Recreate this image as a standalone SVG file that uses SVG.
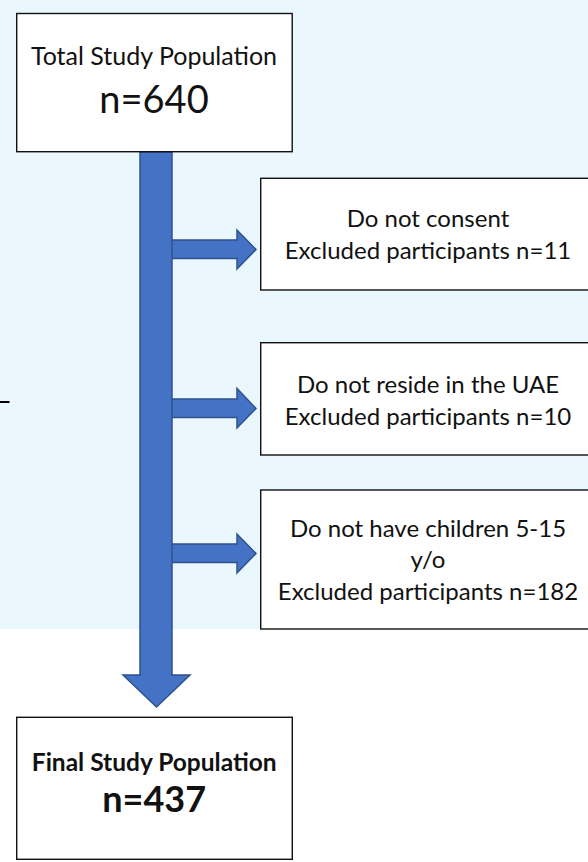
<svg xmlns="http://www.w3.org/2000/svg" width="588" height="862" viewBox="0 0 588 862">
<style>
.box{fill:#fff;stroke:#111;stroke-width:1.4}
.arr{fill:#4472C4;stroke:#2F528F;stroke-width:1.5;stroke-linejoin:miter}
.t{font-family:Lato,"Liberation Sans",sans-serif;fill:#111;text-anchor:middle}
.s{font-size:24px}
.b{font-size:38px}
.bold{font-weight:bold}
</style>
<rect x="0" y="0" width="588" height="629" fill="#EAF8FE"/>
<line x1="0" y1="402" x2="9.5" y2="402" stroke="#000" stroke-width="2"/>
<g id="connectors">
<polygon class="arr" points="165,240 237,240 237,230 256,249.5 237,269 237,258.5 165,258.5"/>
<polygon class="arr" points="165,399 237,399 237,388.5 256,408.5 237,428 237,417.5 165,417.5"/>
<polygon class="arr" points="165,544 237,544 237,534 256,553.5 237,573 237,562.5 165,562.5"/>
<polygon class="arr" points="140,152 172,152 172,675 190,675 156.5,707 123,675 140,675"/>
</g>
<g id="total">
<rect class="box" x="16.7" y="13.5" width="275.5" height="138.2"/>
<text class="t" x="154" y="65" font-size="25">Total Study Population</text>
<text class="t b" x="154" y="112.5">n=640</text>
</g>
<g id="excl1">
<rect class="box" x="260.7" y="178.3" width="336" height="111.7"/>
<text class="t s" x="428" y="226.5">Do not consent</text>
<text class="t s" x="428" y="259">Excluded participants n=11</text>
</g>
<g id="excl2">
<rect class="box" x="260.7" y="342.7" width="336" height="112.3"/>
<text class="t s" x="428" y="393.3">Do not reside in the UAE</text>
<text class="t s" x="428" y="425">Excluded participants n=10</text>
</g>
<g id="excl3">
<rect class="box" x="260.7" y="490" width="336" height="139"/>
<text class="t s" x="428" y="536.7">Do not have children 5-15</text>
<text class="t s" x="428" y="568">y/o</text>
<text class="t s" x="428" y="600">Excluded participants n=182</text>
</g>
<g id="final">
<rect class="box" x="16.7" y="717.3" width="275.6" height="142"/>
<text class="t bold" x="154.2" y="771" font-size="24.5">Final Study Population</text>
<text class="t bold" x="154.2" y="812" font-size="36">n=437</text>
</g>
</svg>
